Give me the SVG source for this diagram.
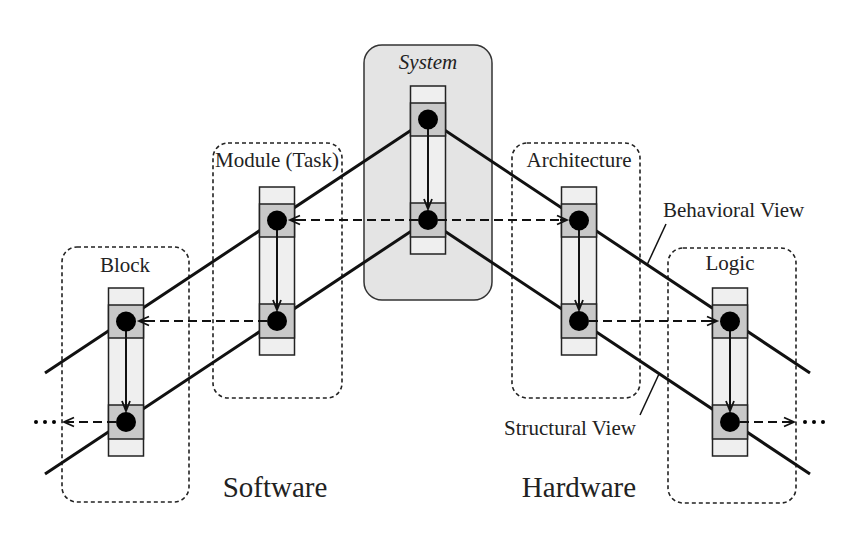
<svg xmlns="http://www.w3.org/2000/svg" width="860" height="550" viewBox="0 0 860 550">
<style>
.lbl{font-family:"Liberation Serif","Times New Roman",serif;font-size:21px;fill:#222}
.big{font-family:"Liberation Serif","Times New Roman",serif;font-size:29px;fill:#222}
.box{fill:none;stroke:#222;stroke-width:1.6;stroke-dasharray:4 3}
.view{stroke:#111;stroke-width:3;fill:none}
.lead{stroke:#111;stroke-width:1.5;fill:none}
.light{fill:#efefef;stroke:#222;stroke-width:1.5}
.cell{fill:#c8c8c8;stroke:#222;stroke-width:1.5}
.dot{fill:#000}
.dash{stroke:#111;stroke-width:2;fill:none;stroke-dasharray:9 5;marker-end:url(#ah)}
</style>
<defs>
<marker id="ah" markerWidth="14" markerHeight="12" refX="11" refY="6" orient="auto" markerUnits="userSpaceOnUse">
<path d="M1,1.5 L11,6 L1,10.5 M4,6 L11,6" fill="none" stroke="#111" stroke-width="1.8"/>
</marker>
<g id="col">
<rect class="light" x="-17.5" y="0" width="35" height="168"/>
<rect class="cell" x="-17.5" y="17" width="35" height="33"/>
<rect class="cell" x="-17.5" y="117" width="35" height="34"/>
<line x1="0" y1="33.5" x2="0" y2="123" stroke="#111" stroke-width="2"/>
<path d="M-4,113 L0,123 L4,113" fill="none" stroke="#111" stroke-width="1.8"/>
<circle class="dot" cx="0" cy="33.5" r="10"/>
<circle class="dot" cx="0" cy="134" r="10"/>
</g>
</defs>
<rect width="860" height="550" fill="#fff"/>

<g id="system-box">
<rect x="364" y="45" width="128" height="255" rx="18" fill="#e4e4e4" stroke="#333" stroke-width="1.5"/>
<text class="lbl" x="428" y="69" text-anchor="middle" font-style="italic" font-size="25">System</text>
</g>
<g id="block-box">
<rect class="box" x="62" y="247" width="127" height="255" rx="15"/>
<text class="lbl" x="125" y="272" text-anchor="middle">Block</text>
</g>
<g id="module-box">
<rect class="box" x="213" y="143" width="129" height="255" rx="15"/>
<text class="lbl" x="277" y="167" text-anchor="middle">Module (Task)</text>
</g>
<g id="architecture-box">
<rect class="box" x="512" y="143" width="128" height="255" rx="15"/>
<text class="lbl" x="579" y="167" text-anchor="middle">Architecture</text>
</g>
<g id="logic-box">
<rect class="box" x="668" y="248" width="128" height="255" rx="15"/>
<text class="lbl" x="730" y="270" text-anchor="middle">Logic</text>
</g>

<g id="views">
<polyline class="view" points="45,373 428,119 810,373"/>
<polyline class="view" points="45,474 428,220 810,474"/>
<line class="lead" x1="666" y1="224" x2="647" y2="265"/>
<line class="lead" x1="640" y1="415" x2="659" y2="374"/>
<text class="lbl" x="663" y="217">Behavioral View</text>
<text class="lbl" x="504" y="435">Structural View</text>
</g>

<g id="system-col"><use href="#col" x="428" y="86"/></g>
<g id="module-col"><use href="#col" x="277" y="187"/></g>
<g id="architecture-col"><use href="#col" x="579" y="187"/></g>
<g id="block-col"><use href="#col" x="126" y="288"/></g>
<g id="logic-col"><use href="#col" x="730" y="288"/></g>

<g id="connectors">
<path class="dash" d="M418,220 H290"/>
<path class="dash" d="M438,220 H567"/>
<path class="dash" d="M267,321 H139"/>
<path class="dash" d="M589,321 H717"/>
<path class="dash" d="M116,422 H64"/>
<path class="dash" d="M740,422 H794"/>
<circle cx="36" cy="422" r="2"/><circle cx="45" cy="422" r="2"/><circle cx="54" cy="422" r="2"/>
<circle cx="805" cy="422" r="2"/><circle cx="814" cy="422" r="2"/><circle cx="823" cy="422" r="2"/>
</g>

<text class="big" x="275" y="497" text-anchor="middle">Software</text>
<text class="big" x="579" y="497" text-anchor="middle">Hardware</text>
</svg>
